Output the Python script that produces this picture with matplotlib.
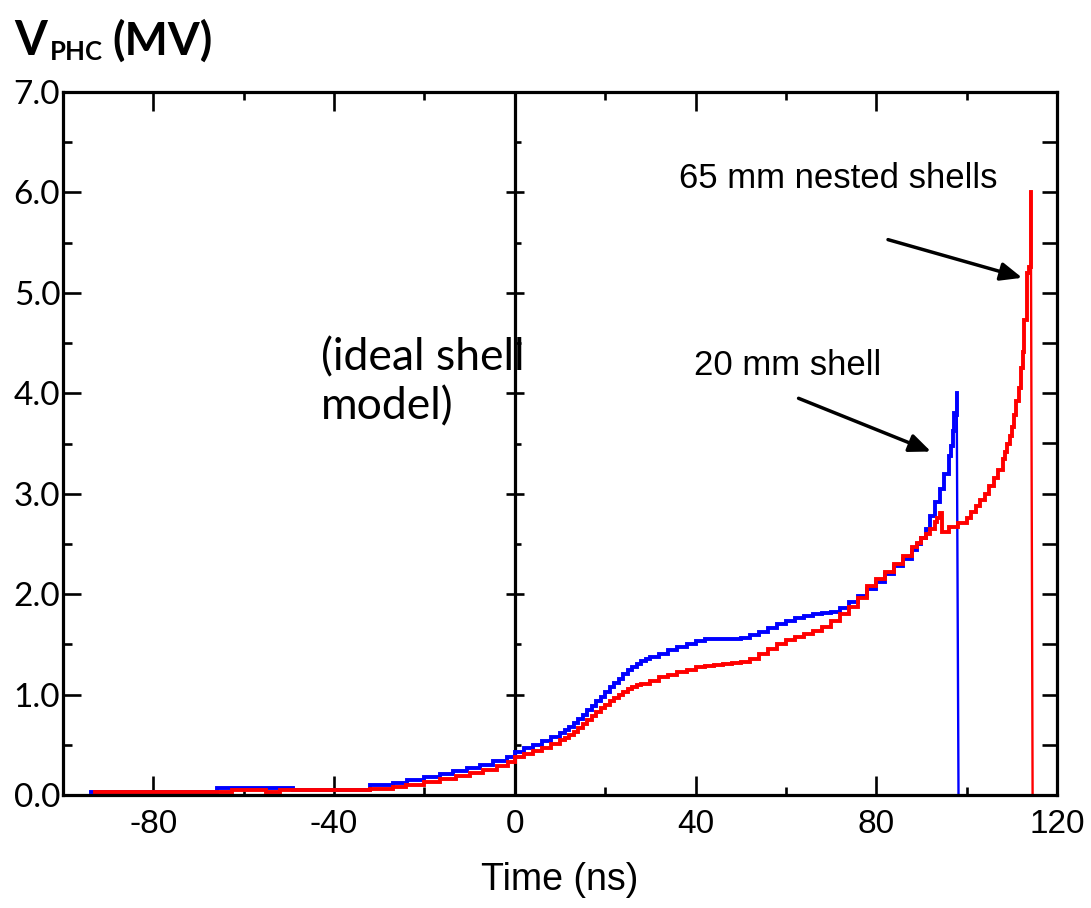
import matplotlib
matplotlib.use("Agg")
import matplotlib.pyplot as plt
from matplotlib.ticker import FixedLocator
from matplotlib.lines import TICKRIGHT

# ---- data: peak-hold-cathode voltage vs time ----
# 20 mm shell (blue)
t_20mm = [-93.8, -66, -49, -32, -27, -23.8, -20, -16.5, -13.6, -10.6, -7.7, -4.8, -1.8,
          0, 2, 4, 6, 8, 10, 11, 12, 13, 14, 15, 16, 17, 18, 19, 20, 21, 22, 23, 24, 25,
          26, 27, 28, 29, 30, 32, 34, 36, 38, 40, 42, 44, 46, 48, 50, 52, 54, 56, 58, 60,
          62, 64, 66, 68, 70, 72, 74, 76, 78, 80, 82, 84, 86, 88, 89, 90, 91, 92, 93, 94,
          95, 96, 96.5, 97, 97.3, 97.6, 97.8]
v_20mm = [0.03, 0.065, 0.05, 0.10, 0.12, 0.15, 0.18, 0.21, 0.24, 0.27, 0.30, 0.34, 0.38,
          0.43, 0.47, 0.50, 0.54, 0.58, 0.62, 0.65, 0.68, 0.72, 0.76, 0.80, 0.85, 0.89, 0.94,
          0.98, 1.03, 1.08, 1.12, 1.16, 1.20, 1.24, 1.27, 1.30, 1.33, 1.35, 1.37, 1.40, 1.44,
          1.47, 1.50, 1.53, 1.55, 1.55, 1.55, 1.55, 1.56, 1.59, 1.62, 1.66, 1.70, 1.73, 1.76,
          1.78, 1.80, 1.81, 1.82, 1.86, 1.92, 1.98, 2.05, 2.12, 2.20, 2.28, 2.35, 2.44, 2.50,
          2.56, 2.65, 2.78, 2.92, 3.05, 3.20, 3.38, 3.48, 3.62, 3.80, 3.78, 4.00]
t_20mm_end = [97.8, 98.2]
v_20mm_end = [4.00, 0.0]

# 65 mm nested shells (red)
t_65mm = [-93, -62.6, -55, -52, -32, -27, -24, -20, -16.5, -13, -10, -7, -4, -1.5,
          0, 2, 4, 6, 8, 10, 11, 12, 13, 14, 15, 16, 17, 18, 19, 20, 21, 22, 23, 24, 25,
          26, 27, 28, 30, 32, 34, 36, 38, 40, 42, 44, 46, 48, 50, 52, 54, 56, 58, 60, 62,
          64, 66, 68, 70, 72, 74, 76, 78, 80, 82, 84, 86, 88, 89, 90, 91, 92, 93, 93.5, 94,
          94.5, 96, 98, 100, 101, 102, 103, 104, 105, 106, 107, 108, 108.5, 109, 109.5, 110,
          110.5, 111, 111.5, 112, 112.4, 112.8, 113.4, 113.8, 114.2]
v_65mm = [0.03, 0.05, 0.03, 0.05, 0.06, 0.08, 0.10, 0.13, 0.16, 0.19, 0.22, 0.25, 0.29, 0.33,
          0.38, 0.41, 0.44, 0.47, 0.51, 0.55, 0.57, 0.60, 0.63, 0.67, 0.71, 0.75, 0.79, 0.83,
          0.87, 0.90, 0.94, 0.97, 1.00, 1.03, 1.06, 1.08, 1.10, 1.11, 1.14, 1.17, 1.19, 1.22,
          1.24, 1.27, 1.28, 1.29, 1.30, 1.31, 1.32, 1.35, 1.40, 1.45, 1.50, 1.54, 1.57, 1.60,
          1.63, 1.67, 1.73, 1.80, 1.87, 1.96, 2.08, 2.15, 2.22, 2.30, 2.38, 2.47, 2.51, 2.56,
          2.60, 2.65, 2.72, 2.76, 2.81, 2.62, 2.67, 2.71, 2.76, 2.82, 2.88, 2.94, 3.00, 3.08,
          3.16, 3.24, 3.35, 3.42, 3.50, 3.57, 3.66, 3.78, 3.92, 4.05, 4.25, 4.41, 4.73, 5.20,
          5.26, 6.00]
t_65mm_end = [114.2, 114.6]
v_65mm_end = [6.00, 0.0]

x_major = [-80, -40, 0, 40, 80, 120]
x_minor = [-60, -20, 20, 60, 100]
y_major = [0, 1, 2, 3, 4, 5, 6, 7]
y_minor = [0.5, 1.5, 2.5, 3.5, 4.5, 5.5, 6.5]

narrow = ["Liberation Sans Narrow", "Liberation Sans", "DejaVu Sans"]
humanist = ["Lato", "DejaVu Sans"]

fig = plt.figure(figsize=(10.91, 9.08), dpi=100)
ax = fig.add_axes([63 / 1091, 1 - 795 / 908, (1057 - 63) / 1091, (795 - 92) / 908])

blue = "#0000FF"
red = "#FF0000"
ax.plot(t_20mm, v_20mm, color=blue, lw=2.8, drawstyle="steps-post", solid_joinstyle="miter")
ax.plot(t_20mm_end, v_20mm_end, color=blue, lw=1.7)
ax.plot(t_65mm, v_65mm, color=red, lw=2.8, drawstyle="steps-post", solid_joinstyle="miter")
ax.plot(t_65mm_end, v_65mm_end, color=red, lw=1.7)

ax.set_xlim(-100, 120)
ax.set_ylim(0, 7)

for s in ax.spines.values():
    s.set_linewidth(2.3)

# inner axis line at t = 0 with its own ticks
ax.axvline(0, color="black", lw=2.3, zorder=1)
ax.plot([0] * (len(y_major) - 2), y_major[1:-1], ls="none", marker="_", ms=12.5,
        mew=1.9, color="black", zorder=1)
ax.plot([0] * len(y_minor), y_minor, ls="none", marker=TICKRIGHT, ms=4.5,
        mew=1.9, color="black", zorder=1)

ax.xaxis.set_major_locator(FixedLocator(x_major))
ax.xaxis.set_minor_locator(FixedLocator(x_minor))
ax.yaxis.set_major_locator(FixedLocator(y_major))
ax.yaxis.set_minor_locator(FixedLocator(y_minor))

ax.tick_params(axis="x", which="both", direction="in", top=True, bottom=True, width=1.9)
ax.tick_params(axis="x", which="major", length=13.5, pad=10)
ax.tick_params(axis="x", which="minor", length=6)
ax.tick_params(axis="y", which="both", direction="in", left=True, right=False, width=1.9)
ax.tick_params(axis="y", which="major", length=13, pad=2)
ax.tick_params(axis="y", which="minor", length=6.5)

ax.set_xticklabels([str(v) for v in x_major], fontfamily=narrow, fontsize=24)
ax.set_yticklabels([f"{v:.1f}" for v in y_major], fontfamily=humanist, fontsize=24)

# right-hand spine ticks (all equal length)
rax = ax.twinx()
rax.set_ylim(ax.get_ylim())
rax.yaxis.set_major_locator(FixedLocator(sorted(y_major + y_minor)))
rax.tick_params(axis="y", direction="in", length=10.5, width=1.9, labelright=False)
for s in rax.spines.values():
    s.set_visible(False)

ax.set_xlabel("Time (ns)", fontfamily=narrow, fontsize=27, labelpad=16)

# axis title
fig.text(14 / 1091, 1 - 55 / 908, "V", fontfamily=humanist, fontweight="bold",
         fontsize=34, ha="left", va="baseline")
fig.text(50 / 1091, 1 - 60 / 908, "PHC", fontfamily=humanist, fontweight="bold",
         fontsize=18.5, ha="left", va="baseline")
fig.text(112 / 1091, 1 - 55 / 908, "(MV)", fontfamily=humanist, fontweight="bold",
         fontsize=33, ha="left", va="baseline")

ax.text(-43, 4.11, "(ideal shell\nmodel)", fontfamily=humanist, fontsize=32,
        ha="left", va="center", linespacing=1.22)

ax.text(60.4, 4.28, "20 mm shell", fontfamily=narrow, fontsize=25, ha="center", va="center")
ax.annotate("", xy=(92.1, 3.42), xytext=(62.8, 3.95),
            arrowprops=dict(arrowstyle="-|>,head_length=1.3,head_width=0.55",
                            color="black", lw=2.5, shrinkA=0, shrinkB=0))

ax.text(71.6, 6.14, "65 mm nested shells", fontfamily=narrow, fontsize=25,
        ha="center", va="center")
ax.annotate("", xy=(112.3, 5.15), xytext=(82.6, 5.53),
            arrowprops=dict(arrowstyle="-|>,head_length=1.3,head_width=0.55",
                            color="black", lw=2.5, shrinkA=0, shrinkB=0))

fig.savefig("out.png", dpi=100)
